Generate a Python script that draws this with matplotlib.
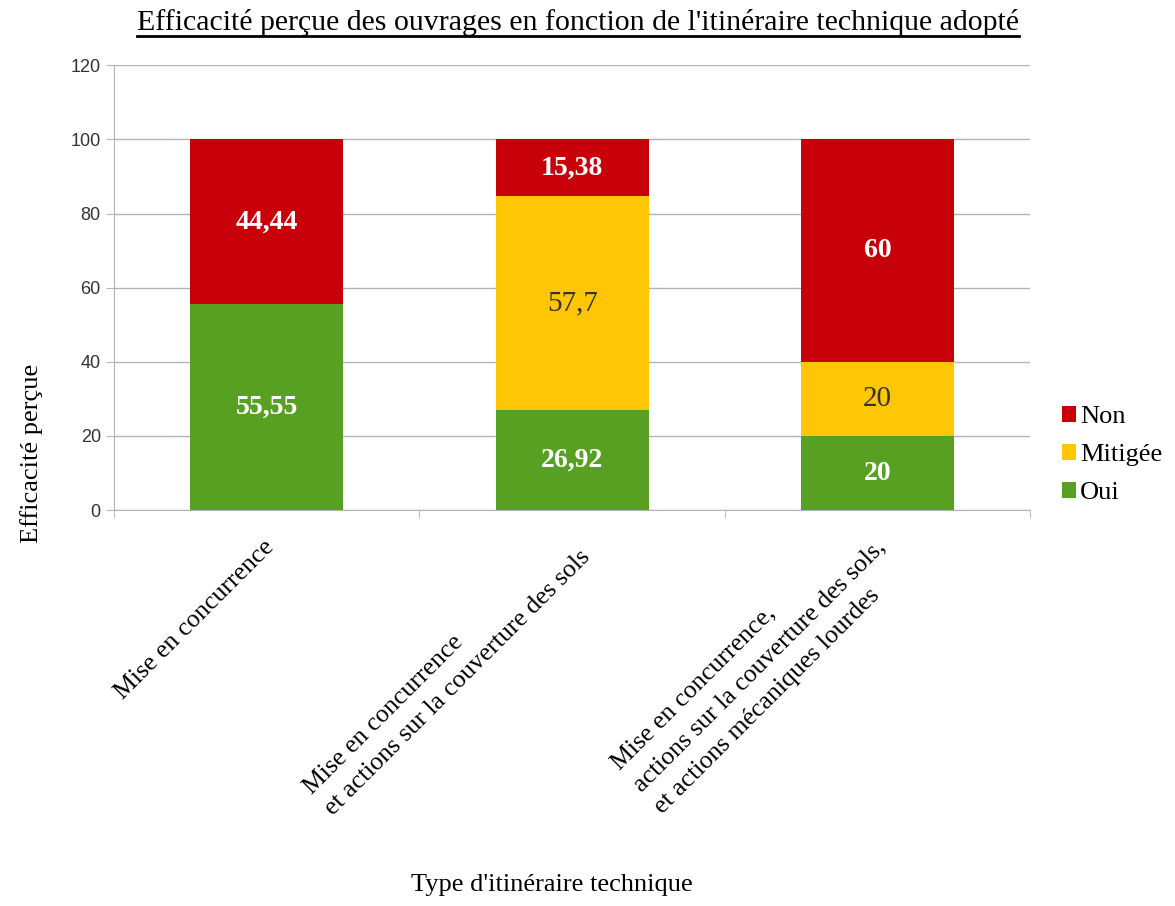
import matplotlib.pyplot as plt
from matplotlib.lines import Line2D
from matplotlib.transforms import ScaledTranslation
import numpy as np

plt.rcParams['font.family'] = ['Liberation Serif', 'DejaVu Serif']

categories = ["Mise en concurrence",
              "Mise en concurrence\net actions sur la couverture des sols",
              "Mise en concurrence,\nactions sur la couverture des sols,\net actions mécaniques lourdes"]
oui = [55.55, 26.92, 20]
mitigee = [0, 57.7, 20]
non = [44.44, 15.38, 60]
labels_oui = ["55,55", "26,92", "20"]
labels_mitigee = ["", "57,7", "20"]
labels_non = ["44,44", "15,38", "60"]

c_non = "#C8000A"
c_mit = "#FFC605"
c_oui = "#57A021"

fig = plt.figure(figsize=(11.75, 9.06), dpi=100)
ax = fig.add_axes([0.097, 0.437, 0.780, 0.491])

x = np.arange(len(categories))
w = 0.5
b1 = ax.bar(x, oui, w, color=c_oui, label="Oui", zorder=3)
b2 = ax.bar(x, mitigee, w, bottom=oui, color=c_mit, label="Mitigée", zorder=3)
bot3 = np.array(oui) + np.array(mitigee)
b3 = ax.bar(x, non, w, bottom=bot3, color=c_non, label="Non", zorder=3)

ax.bar_label(b1, labels=labels_oui, label_type='center', color='white',
             fontsize=20, fontweight='bold')
ax.bar_label(b2, labels=labels_mitigee, label_type='center', color='#333333',
             fontsize=21)
ax.bar_label(b3, labels=labels_non, label_type='center', color='white',
             fontsize=20, fontweight='bold')

ax.set_xlim(-0.5, 2.5)
ax.set_ylim(0, 120)
ax.set_yticks(np.arange(0, 121, 20))
ax.yaxis.grid(True, color='#b3b3b3', linewidth=1, zorder=0)
for lab in ax.get_yticklabels():
    lab.set_fontfamily('Liberation Sans')
ax.tick_params(axis='y', labelsize=13, labelcolor='#333333', color='#b3b3b3', length=6)
for s in ['top', 'right']:
    ax.spines[s].set_visible(False)
ax.spines['left'].set_color('#b3b3b3')
ax.spines['bottom'].set_color('#b3b3b3')

ax.set_xticks(x)
ax.set_xticklabels(categories, rotation=45, ha='right', va='center',
                   rotation_mode='anchor', fontsize=18.5, multialignment='left',
                   linespacing=1.5)
ax.tick_params(axis='x', length=0, pad=24)
off = ScaledTranslation(3 / 72, 0, fig.dpi_scale_trans)
for lab in ax.get_xticklabels():
    lab.set_transform(lab.get_transform() + off)
ax.set_xticks([-0.5, 0.5, 1.5, 2.5], minor=True)
ax.tick_params(axis='x', which='minor', length=6, color='#b3b3b3')

h, l = ax.get_legend_handles_labels()
ax.legend(h[::-1], l[::-1], loc='center left', bbox_to_anchor=(1.008, 0.124),
          frameon=False, fontsize=19, handlelength=0.55, handleheight=0.55,
          handletextpad=0.15, labelspacing=0.6)

t = fig.text(0.492, 0.967, "Efficacité perçue des ouvrages en fonction de l'itinéraire technique adopté",
             ha='center', va='baseline', fontsize=21.5)
fig.text(0.027, 0.5, "Efficacité perçue", rotation=90, ha='center', va='center', fontsize=19)
fig.text(0.47, 0.017, "Type d'itinéraire technique", ha='center', va='baseline', fontsize=19)

# underline the title
fig.canvas.draw()
bb = t.get_window_extent().transformed(fig.transFigure.inverted())
yl = 0.967 - 0.007
fig.add_artist(Line2D([bb.x0, bb.x1], [yl, yl], color='black', linewidth=2))

fig.savefig("out.png", dpi=100)
